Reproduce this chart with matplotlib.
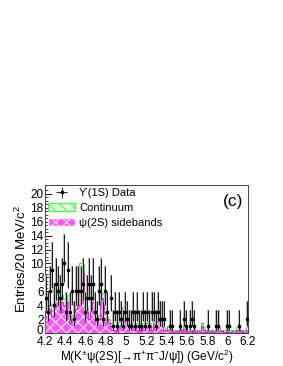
import numpy as np
import matplotlib
matplotlib.use('Agg')
import matplotlib.pyplot as plt
import matplotlib.transforms as mtransforms
from matplotlib.patches import Patch

plt.rcParams['font.family'] = ['Liberation Sans', 'DejaVu Sans']
plt.rcParams['mathtext.fontset'] = 'custom'
plt.rcParams['mathtext.rm'] = 'Liberation Sans'
plt.rcParams['mathtext.it'] = 'Liberation Sans'
plt.rcParams['hatch.linewidth'] = 0.7

# 20 MeV bins, 4.2 -> 6.2 GeV
edges = np.round(np.arange(4.2, 6.2001, 0.02), 3)

data = [5, 3, 6, 9, 4, 7, 6, 5, 7, 10,
        3, 9, 3, 6, 2, 6, 6, 6, 7, 3,
        5, 7, 5, 7, 3, 2, 6, 7, 2, 6,
        3, 0, 5, 1, 3, 1, 3, 2, 1, 3,
        2, 1, 1, 3, 1, 3, 1, 1, 3, 1,
        3, 1, 3, 3, 1, 3, 2, 2, 2, 0,
        0, 1, 1, 0, 0, 0, 1, 0, 2, 1,
        0, 1, 2, 1, 0, 0, 0, 0, 0, 0,
        1, 0, 0, 0, 1, 1, 0, 0, 0, 1,
        1, 0, 0, 0, 0, 1, 0, 0, 0, 2]

sideband = [2.4, 4.5, 3.5, 2.5, 5.5, 5.5, 4.0, 3.0, 4.5, 4.0,
            2.0, 4.5, 1.5, 2.0, 3.0, 3.5, 4.0, 8.5, 8.7, 4.0,
            3.0, 2.0, 3.5, 4.5, 3.0, 1.5, 2.0, 4.5, 5.0, 3.0,
            2.0, 1.5, 1.0, 0.5, 0.5, 0.3, 1.0, 2.5, 3.0, 3.0,
            2.0, 1.0, 1.5, 1.0, 0.5, 1.0, 0.5, 0.3, 1.0, 1.5,
            1.5, 1.0, 0.5, 1.5, 2.5, 2.5, 1.5, 1.0, 0.5, 0.3,
            0.5, 0.8, 0.3, 0.2, 0.3, 0.2, 0.4, 0.3, 0.6, 0.3,
            0.2, 0.3, 0.2, 0.4, 0.2, 0.3, 0.2, 1.0, 0.5, 0.2,
            0.3, 0.2, 0.3, 0.2, 0.3, 0.6, 0.3, 0.2, 0.2, 0.3,
            0.2, 0.2, 0.3, 0.2, 0.5, 0.6, 0.3, 0.2, 0.2, 0.5]

continuum = [1.0, 1.2, 0.8, 0.6, 1.5, 1.2, 0.8, 0.7, 1.0, 0.9,
             0.6, 1.0, 0.5, 0.6, 0.8, 0.8, 0.9, 1.5, 1.2, 0.8,
             0.7, 0.6, 0.8, 1.0, 0.7, 0.5, 0.6, 0.9, 0.8, 0.6,
             0.5, 0.5, 0.4, 0.4, 0.5, 0.4, 0.6, 0.7, 0.8, 0.7,
             0.6, 0.5, 0.5, 0.4, 0.4, 0.5, 0.4, 0.4, 0.5, 0.5,
             0.5, 0.4, 0.4, 0.5, 0.6, 0.6, 0.5, 0.4, 0.3, 0.3,
             0.3, 0.4, 0.3, 0.3, 0.2, 0.2, 0.3, 0.3, 0.4, 0.2,
             0.2, 0.2, 0.2, 0.3, 0.2, 0.2, 0.2, 0.4, 0.3, 0.2,
             0.2, 0.2, 0.2, 0.2, 0.2, 0.3, 0.2, 0.2, 0.2, 0.2,
             0.2, 0.2, 0.2, 0.2, 0.3, 0.3, 0.2, 0.2, 0.2, 0.3]

data = np.array(data, dtype=float)
sideband = np.array(sideband)
total = sideband + np.array(continuum)
centers = 0.5 * (edges[:-1] + edges[1:])
width = edges[1] - edges[0]

fig = plt.figure(figsize=(2.83, 3.66), dpi=100)
ax = fig.add_axes([0.159, 0.090, 0.717, 0.405])

green_face, green_edge = '#ddffdd', '#55ee55'
mag_face = '#ff55ff'

# stacked backgrounds: continuum on top of sidebands
ax.bar(centers, total, width=width, color=green_face, edgecolor=green_edge,
       hatch='\\\\\\', linewidth=0, zorder=1)
ax.stairs(total, edges, color='#33dd33', lw=0.6, zorder=2)
ax.bar(centers, sideband, width=width, color=mag_face, edgecolor='white',
       hatch='xxx', linewidth=0, zorder=3)
ax.stairs(sideband, edges, color='#ee00ee', lw=0.6, zorder=4)

# data with asymmetric poisson-like errors
m = data > 0
n = data[m]
up = np.sqrt(n + 0.75) + 1.0
lo = n - np.maximum(n - np.sqrt(n + 0.25) + 0.5, 0.15)
lo = np.minimum(lo, n)
ax.bar(centers[m], up + lo, bottom=n - lo, width=width,
       color='#bbbbbb', linewidth=0, zorder=5)
eb = ax.errorbar(centers[m], n, yerr=[lo, up], xerr=width * 0.4, fmt='s',
                 color='black', ms=2, elinewidth=0.6, capsize=0, zorder=6)

ax.set_xlim(4.2, 6.2)
ax.set_ylim(0, 21.3)
ax.set_xticks(np.arange(4.2, 6.21, 0.2))
ax.set_xticklabels(['4.2', '4.4', '4.6', '4.8', '5', '5.2', '5.4', '5.6',
                    '5.8', '6', '6.2'])
ax.set_yticks(np.arange(0, 21, 2))
ax.set_xticks(np.arange(4.2, 6.21, 0.05), minor=True)
ax.set_yticks(np.arange(0, 21, 0.5), minor=True)
ax.tick_params(which='both', direction='in', labelsize=8.5, pad=2)
ax.tick_params(axis='y', pad=1)
ax.tick_params(which='major', length=5, width=0.6)
ax.tick_params(which='minor', length=2.5, width=0.5)
for s in ax.spines.values():
    s.set_linewidth(0.7)
    s.set_color('#444444')

# nudge the "0" label up a little, as in the original
zero_lab = ax.get_yticklabels()[0]
zero_lab.set_transform(zero_lab.get_transform() +
                       mtransforms.ScaledTranslation(0, 2.5 / 72, fig.dpi_scale_trans))

ax.set_ylabel('Entries/20 MeV/c$^{2}$', fontsize=9.5, labelpad=1)
ax.set_xlabel('M(K$^{\\pm}$ψ(2S)[→π$^{+}$π$^{-}$J/ψ]) (GeV/c$^{2}$)',
              fontsize=8.5, labelpad=0)
ax.text(0.975, 0.935, '(c)', transform=ax.transAxes, ha='right', va='top',
        fontsize=12.5)

handles = [eb,
           Patch(facecolor=green_face, edgecolor=green_edge, hatch='\\\\\\'),
           Patch(facecolor=mag_face, edgecolor='white', hatch='xxx')]
labels = ['ϒ(1S) Data', 'Continuum', 'ψ(2S) sidebands']
ax.legend(handles, labels, loc='upper left', frameon=False, fontsize=8,
          handlelength=2.4, handletextpad=0.4, borderaxespad=0.2,
          labelspacing=0.45, borderpad=0.1)

fig.savefig('out.png', dpi=100)
